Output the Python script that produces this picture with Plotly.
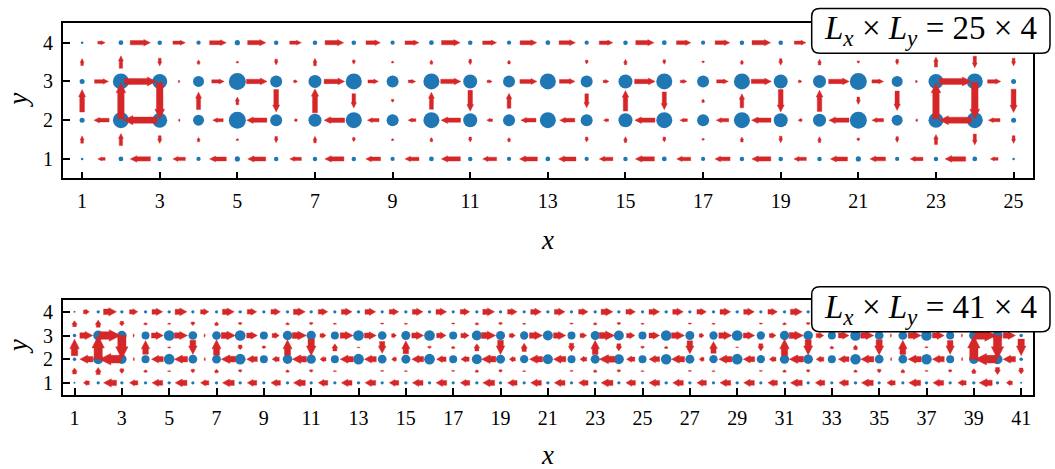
import plotly.graph_objects as go

W, H = 1055, 469

# ---------------- 25 x 4 lattice ----------------
top_Lx = 25
top_xticks = list(range(1, 26, 2))
# site marker diameters (px): rows y=2,3 share one list, rows y=1,4 share the other
top_site_inner = [5, 16, 15, 11, 17, 12, 13, 16, 12, 16, 14, 12, 16,
                  12, 14, 16, 12, 16, 14, 13, 17, 11, 15, 16, 5]
top_site_outer = [2.5, 4.8, 4.5, 4.3, 5.2, 4.5, 4.5, 4.5, 4.2, 4.8, 4.5, 4.3, 4.8,
                  4.3, 4.5, 4.8, 4.2, 4.5, 4.5, 4.5, 5.2, 4.3, 4.5, 4.8, 2.5]
# bond currents along rows (bond i joins x=i and x=i+1), positive = +x
top_h4 = [0.19, 0.52, 0.32, 0.43, 0.47, 0.30, 0.48, 0.37, 0.36, 0.48, 0.36, 0.43,
          0.42, 0.35, 0.47, 0.37, 0.38, 0.48, 0.30, 0.47, 0.43, 0.32, 0.52, 0.19]
top_h3 = [0.36, 0.82, 0.04, 0.32, 0.53, 0.10, 0.53, 0.27, 0.19, 0.52, 0.13, 0.44,
          0.40, 0.15, 0.53, 0.17, 0.30, 0.52, 0.09, 0.53, 0.30, 0.05, 0.82, 0.34]
top_h2 = [-0.39, -0.86, -0.04, -0.27, -0.52, -0.08, -0.53, -0.30, -0.20, -0.50, -0.15, -0.39,
          -0.39, -0.13, -0.52, -0.19, -0.32, -0.50, -0.10, -0.52, -0.30, -0.05, -0.82, -0.30]
top_h1 = [-0.19, -0.52, -0.32, -0.43, -0.46, -0.30, -0.49, -0.38, -0.36, -0.49, -0.36, -0.46,
          -0.45, -0.35, -0.49, -0.36, -0.39, -0.49, -0.32, -0.44, -0.40, -0.33, -0.53, -0.20]
# bond currents along columns, positive = +y
top_v34 = [0.18, 0.32, -0.20, 0.11, 0.05, -0.15, 0.19, -0.11, 0.05, 0.11, -0.14, 0.10, 0.0,
           -0.10, 0.14, -0.12, -0.05, 0.11, -0.17, 0.15, -0.06, -0.14, 0.26, -0.30, -0.20]
top_v23 = [0.58, 0.92, -0.94, 0.45, 0.20, -0.58, 0.62, -0.37, -0.08, 0.44, -0.54, 0.39, 0.0,
           -0.36, 0.53, -0.46, 0.09, 0.36, -0.58, 0.55, -0.19, -0.50, 0.92, -0.94, -0.60]
top_v12 = [0.19, 0.31, -0.20, 0.11, 0.05, -0.16, 0.17, -0.11, 0.05, 0.11, -0.13, 0.11, 0.0,
           -0.13, 0.15, -0.13, -0.05, 0.13, -0.17, 0.15, -0.08, -0.15, 0.26, -0.28, -0.20]

# ---------------- 41 x 4 lattice ----------------
bot_Lx = 41
bot_xticks = list(range(1, 42, 2))
bot_site_inner = [3.5, 10, 9.5, 8, 10.7, 8.7, 8.7, 10.7, 8, 9.5, 9.3, 8, 10.7, 8.7, 9, 10.7,
                  8, 10, 9, 8.3, 10, 8, 9, 10, 8, 10.5, 9, 8.3, 10.7, 8.3, 9.3, 9.5, 8,
                  10.5, 8.7, 8.7, 10.5, 8, 9.5, 10, 3.5]
bot_site_outer = [2, 3.3, 3.3, 3.2, 3.4, 3.2, 3.2, 3.4, 3.2, 3.3, 3.3, 3.2, 3.4, 3.2, 3.3, 3.4,
                  3.2, 3.3, 3.3, 3.2, 3.3, 3.2, 3.3, 3.3, 3.2, 3.4, 3.3, 3.2, 3.4, 3.2, 3.3,
                  3.3, 3.2, 3.4, 3.2, 3.2, 3.4, 3.2, 3.3, 3.3, 2]
bot_h4 = [0.25, 0.55, 0.35, 0.45, 0.50, 0.35, 0.50, 0.40, 0.40, 0.50, 0.40, 0.45, 0.45, 0.40,
          0.45, 0.45, 0.40, 0.50, 0.40, 0.45, 0.45, 0.40, 0.50, 0.40, 0.45, 0.45, 0.40, 0.45,
          0.45, 0.40, 0.50, 0.40, 0.40, 0.50, 0.35, 0.50, 0.45, 0.35, 0.55, 0.25]
bot_h3 = [0.55, 0.90, 0.05, 0.50, 0.55, 0.05, 0.60, 0.45, 0.30, 0.60, 0.25, 0.55, 0.50, 0.20,
          0.50, 0.40, 0.35, 0.60, 0.25, 0.55, 0.52, 0.28, 0.65, 0.35, 0.45, 0.55, 0.20, 0.55,
          0.48, 0.28, 0.60, 0.32, 0.45, 0.55, 0.05, 0.55, 0.50, 0.05, 0.90, 0.52]
bot_h2 = [-0.55, -0.90, -0.05, -0.50, -0.55, -0.05, -0.60, -0.45, -0.30, -0.60, -0.25, -0.55,
          -0.50, -0.20, -0.50, -0.40, -0.35, -0.60, -0.25, -0.55, -0.52, -0.28, -0.65, -0.35,
          -0.45, -0.55, -0.20, -0.55, -0.48, -0.28, -0.60, -0.32, -0.45, -0.55, -0.05, -0.55,
          -0.50, -0.05, -0.90, -0.52]
bot_h1 = [-0.25, -0.55, -0.35, -0.45, -0.50, -0.35, -0.50, -0.40, -0.40, -0.50, -0.40, -0.45,
          -0.45, -0.40, -0.45, -0.45, -0.40, -0.50, -0.40, -0.45, -0.45, -0.40, -0.50, -0.40,
          -0.45, -0.45, -0.40, -0.45, -0.45, -0.40, -0.50, -0.40, -0.40, -0.50, -0.35, -0.50,
          -0.45, -0.35, -0.55, -0.25]
bot_v34 = [0.25, 0.30, -0.20, 0.10, 0.05, -0.15, 0.15, -0.10, 0.0, 0.10, -0.10, 0.05, 0.0,
           -0.05, 0.05, 0.0, -0.05, 0.10, -0.10, 0.05, 0.0, -0.05, 0.10, -0.10, 0.05, 0.0,
           -0.05, 0.05, 0.0, -0.05, 0.10, -0.10, 0.0, 0.10, -0.15, 0.15, -0.05, -0.10, 0.20,
           -0.30, -0.25]
bot_v23 = [0.70, 1.00, -1.00, 0.58, 0.05, -0.60, 0.65, -0.20, -0.12, 0.65, -0.70, 0.30, 0.03,
           -0.50, 0.55, -0.10, 0.10, 0.30, -0.60, 0.35, 0.0, -0.35, 0.60, -0.30, -0.10, 0.10,
           -0.55, 0.50, -0.03, -0.30, 0.70, -0.65, 0.12, 0.20, -0.65, 0.60, -0.05, -0.58,
           1.00, -1.00, -0.70]
bot_v12 = [0.25, 0.30, -0.20, 0.10, 0.05, -0.15, 0.15, -0.10, 0.0, 0.10, -0.10, 0.05, 0.0,
           -0.05, 0.05, 0.0, -0.05, 0.10, -0.10, 0.05, 0.0, -0.05, 0.10, -0.10, 0.05, 0.0,
           -0.05, 0.05, 0.0, -0.05, 0.10, -0.10, 0.0, 0.10, -0.15, 0.15, -0.05, -0.10, 0.20,
           -0.30, -0.25]

BLUE = "#1f77b4"
RED = "#d62728"
SERIF = "Liberation Serif"

# axes boxes in pixels: (left, top, right, bottom)
top_box = (62.7, 23.3, 1033.0, 178.3)
bot_box = (62.7, 300.0, 1033.0, 394.7)


def px_per_unit(box, lx):
    return (box[2] - box[0]) / lx


def arrow_polys(bonds, ppu, wscale):
    """bonds: list of (cx, cy, ux, uy, value). Returns x, y lists of closed polygons."""
    xs, ys = [], []
    for cx, cy, ux, uy, val in bonds:
        L = abs(val)
        if L < 0.015:
            continue
        if val < 0:
            ux, uy = -ux, -uy
        w = wscale * (1.7 + 5.2 * L) / ppu
        hw = 1.5 * w
        hl = min(1.5 * w, 0.6 * L)
        pxn, pyn = -uy, ux
        tx, ty = cx - ux * L / 2, cy - uy * L / 2
        hx, hy = cx + ux * L / 2, cy + uy * L / 2
        bx, by = hx - ux * hl, hy - uy * hl
        pts = [
            (tx + pxn * w / 2, ty + pyn * w / 2),
            (bx + pxn * w / 2, by + pyn * w / 2),
            (bx + pxn * hw / 2, by + pyn * hw / 2),
            (hx, hy),
            (bx - pxn * hw / 2, by - pyn * hw / 2),
            (bx - pxn * w / 2, by - pyn * w / 2),
            (tx - pxn * w / 2, ty - pyn * w / 2),
            (tx + pxn * w / 2, ty + pyn * w / 2),
        ]
        for p in pts:
            xs.append(p[0])
            ys.append(p[1])
        xs.append(None)
        ys.append(None)
    return xs, ys


def lattice_traces(inner, outer, h_rows, v_cols, ppu, wscale, xa, ya):
    sx, sy, ss = [], [], []
    for y, sizes in ((1, outer), (2, inner), (3, inner), (4, outer)):
        for i, s in enumerate(sizes):
            sx.append(i + 1)
            sy.append(y)
            ss.append(s)
    sites = go.Scatter(x=sx, y=sy, mode="markers", xaxis=xa, yaxis=ya,
                       marker=dict(size=ss, color=BLUE, opacity=1, line=dict(width=0)),
                       hoverinfo="skip", showlegend=False)
    bonds = []
    for y, row in h_rows:
        for i, v in enumerate(row):
            bonds.append((i + 1.5, y, 1.0, 0.0, v))
    for y0, col in v_cols:
        for i, v in enumerate(col):
            bonds.append((i + 1, y0 + 0.5, 0.0, 1.0, v))
    ax_, ay_ = arrow_polys(bonds, ppu, wscale)
    arrows = go.Scatter(x=ax_, y=ay_, mode="lines", fill="toself", fillcolor=RED,
                        line=dict(width=0.4, color=RED), xaxis=xa, yaxis=ya,
                        hoverinfo="skip", showlegend=False)
    return [sites, arrows]


fig = go.Figure()
for tr in lattice_traces(top_site_inner, top_site_outer,
                         [(4, top_h4), (3, top_h3), (2, top_h2), (1, top_h1)],
                         [(3, top_v34), (2, top_v23), (1, top_v12)],
                         px_per_unit(top_box, top_Lx), 1.0, "x", "y"):
    fig.add_trace(tr)
for tr in lattice_traces(bot_site_inner, bot_site_outer,
                         [(4, bot_h4), (3, bot_h3), (2, bot_h2), (1, bot_h1)],
                         [(3, bot_v34), (2, bot_v23), (1, bot_v12)],
                         px_per_unit(bot_box, bot_Lx), 1.2, "x2", "y2"):
    fig.add_trace(tr)


def xdom(box):
    return [box[0] / W, box[2] / W]


def ydom(box):
    return [1 - box[3] / H, 1 - box[1] / H]


axis_style = dict(showline=True, linecolor="black", linewidth=1.6, mirror=True,
                  ticks="inside", ticklen=7, tickwidth=1.5, tickcolor="black",
                  showgrid=False, zeroline=False, ticklabelstandoff=4,
                  tickfont=dict(family=SERIF, size=20, color="black"))

fig.update_layout(
    width=W, height=H, margin=dict(l=0, r=0, t=0, b=0),
    paper_bgcolor="white", plot_bgcolor="white",
    xaxis=dict(domain=xdom(top_box), range=[0.5, top_Lx + 0.5], tickvals=top_xticks,
               anchor="y", **axis_style),
    yaxis=dict(domain=ydom(top_box), range=[0.5, 4.5], tickvals=[1, 2, 3, 4],
               anchor="x", **axis_style),
    xaxis2=dict(domain=xdom(bot_box), range=[0.5, bot_Lx + 0.5], tickvals=bot_xticks,
                anchor="y2", **axis_style),
    yaxis2=dict(domain=ydom(bot_box), range=[0.5, 4.5], tickvals=[1, 2, 3, 4],
                anchor="x2", **axis_style),
)


def rounded_box_path(x0, y0, x1, y1, r):
    def P(px, py):
        return f"{px / W:.5f},{1 - py / H:.5f}"
    return (f"M {P(x0 + r, y0)} L {P(x1 - r, y0)} Q {P(x1, y0)} {P(x1, y0 + r)} "
            f"L {P(x1, y1 - r)} Q {P(x1, y1)} {P(x1 - r, y1)} "
            f"L {P(x0 + r, y1)} Q {P(x0, y1)} {P(x0, y1 - r)} "
            f"L {P(x0, y0 + r)} Q {P(x0, y0)} {P(x0 + r, y0)} Z")


labels = [
    (top_Lx, (811.7, 8.5, 1050.0, 53.3)),
    (bot_Lx, (811.7, 286.7, 1050.0, 331.7)),
]
for lx, (x0, y0, x1, y1) in labels:
    fig.add_shape(type="path", path=rounded_box_path(x0, y0, x1, y1, 8),
                  xref="paper", yref="paper", fillcolor="white",
                  line=dict(color="black", width=1.5), layer="above")
    fig.add_annotation(
        x=(x0 + x1) / 2 / W, y=1 - (y0 + y1) / 2 / H, xref="paper", yref="paper",
        text=f"<i>L</i><sub><i>x</i></sub> × <i>L</i><sub><i>y</i></sub> = {lx} × 4",
        showarrow=False, font=dict(family=SERIF, size=33, color="black"),
        xanchor="center", yanchor="middle")

# axis titles
for box, xy in ((top_box, 240), (bot_box, 455)):
    fig.add_annotation(x=(box[0] + box[2]) / 2 / W, y=1 - xy / H, xref="paper", yref="paper",
                       text="<i>x</i>", showarrow=False,
                       font=dict(family=SERIF, size=27, color="black"),
                       xanchor="center", yanchor="middle")
    fig.add_annotation(x=18 / W, y=1 - (box[1] + box[3]) / 2 / H, xref="paper", yref="paper",
                       text="<i>y</i>", showarrow=False, textangle=-90,
                       font=dict(family=SERIF, size=27, color="black"),
                       xanchor="center", yanchor="middle")

fig.write_html("out.html")
